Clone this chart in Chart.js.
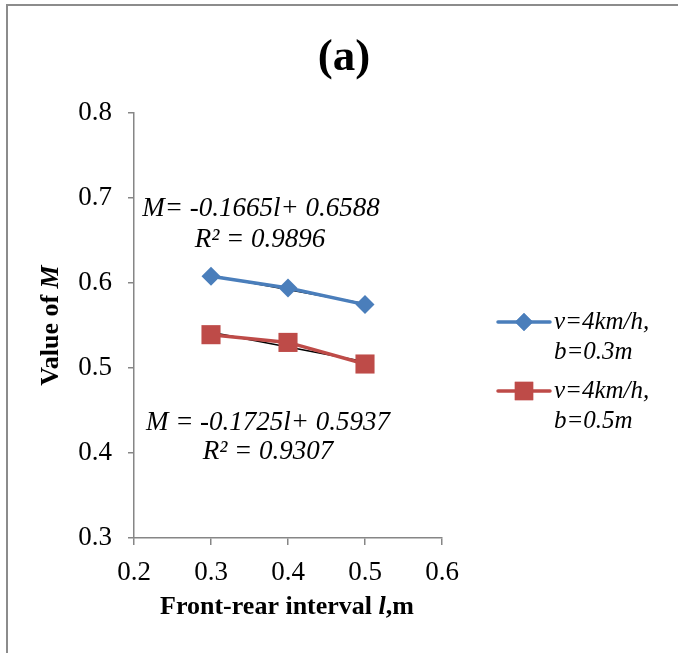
<!DOCTYPE html>
<html>
<head>
<meta charset="utf-8">
<script src="https://cdn.jsdelivr.net/npm/chart.js@4.4.1/dist/chart.umd.min.js"></script>
<style>
  html, body { margin: 0; padding: 0; background: #fff; }
  #wrap { position: relative; width: 678px; height: 653px; overflow: hidden; }
  #frame { position: absolute; left: 6px; top: 4px; width: 800px; height: 800px;
           border-left: 2px solid #8c8c8c; border-top: 2px solid #8c8c8c; pointer-events: none; }
  canvas { position: absolute; left: 0; top: 0; }
</style>
</head>
<body>
<div id="wrap">
  <canvas id="c" width="678" height="653"></canvas>
  <div id="frame"></div>
</div>
<script>
// Front-rear interval l (m)
const intervals = [0.3, 0.4, 0.5];
// Value of M for the two configurations
const mB03 = [0.6079, 0.5942, 0.5746];
const mB05 = [0.5392, 0.5301, 0.5047];
// Linear fits M = slope * l + intercept
const fitB03 = { slope: -0.1665, intercept: 0.6588, r2: '0.9896' };
const fitB05 = { slope: -0.1725, intercept: 0.5937, r2: '0.9307' };
const seriesNames = [['v=4km/h,', 'b=0.3m'], ['v=4km/h,', 'b=0.5m']];
const xTicks = [0.2, 0.3, 0.4, 0.5, 0.6];
const yTicks = [0.3, 0.4, 0.5, 0.6, 0.7, 0.8];

const BLUE = '#4a7ebb';
const RED = '#be4b48';
const AXIS = '#868686';
const SERIF = '"Liberation Serif", "Times New Roman", serif';

const pts = (xs, ys) => xs.map((x, i) => ({ x: x, y: ys[i] }));
const fitLine = (f) => [intervals[0], intervals[intervals.length - 1]]
  .map(x => ({ x: x, y: f.slope * x + f.intercept }));

// Draws a run of [text, font] pieces starting at x, baseline middle
function drawRuns(ctx, runs, x, y, align) {
  let total = 0;
  runs.forEach(r => { ctx.font = r[1]; total += ctx.measureText(r[0]).width; });
  let cx = align === 'center' ? x - total / 2 : x;
  ctx.textAlign = 'left';
  ctx.textBaseline = 'middle';
  runs.forEach(r => { ctx.font = r[1]; ctx.fillText(r[0], cx, y); cx += ctx.measureText(r[0]).width; });
}

const textPlugin = {
  id: 'texts',
  afterDraw(chart) {
    const ctx = chart.ctx;
    const ys = chart.scales.y;
    ctx.save();
    ctx.fillStyle = '#000';

    // Title
    ctx.font = 'bold 45px ' + SERIF;
    ctx.textAlign = 'center';
    ctx.textBaseline = 'middle';
    ctx.fillText('(a)', 344, 58);

    // X axis title
    drawRuns(ctx, [
      ['Front-rear interval ', 'bold 26px ' + SERIF],
      ['l', 'bold italic 26px ' + SERIF],
      [',m', 'bold 26px ' + SERIF]
    ], 287, 607, 'center');

    // Y axis title (rotated)
    ctx.save();
    ctx.translate(51, (ys.top + ys.bottom) / 2);
    ctx.rotate(-Math.PI / 2);
    drawRuns(ctx, [
      ['Value of ', 'bold 26px ' + SERIF],
      ['M', 'bold italic 26px ' + SERIF]
    ], 0, 0, 'center');
    ctx.restore();

    // Fit equations
    ctx.font = 'italic 27px ' + SERIF;
    ctx.textAlign = 'center';
    ctx.textBaseline = 'middle';
    ctx.fillText('M= ' + fitB03.slope + 'l+ ' + fitB03.intercept, 261, 209);
    ctx.fillText('R² = ' + fitB03.r2, 260, 240);
    ctx.fillText('M = ' + fitB05.slope + 'l+ ' + fitB05.intercept, 268, 423);
    ctx.fillText('R² = ' + fitB05.r2, 268, 452);

    // Legend
    const items = [
      { color: BLUE, shape: 'rectRot', r: 9, y: 322 },
      { color: RED, shape: 'rect', r: 13, y: 391 }
    ];
    items.forEach((it, i) => {
      ctx.strokeStyle = it.color;
      ctx.lineWidth = 3.5;
      ctx.lineCap = 'round';
      ctx.beginPath();
      ctx.moveTo(498, it.y);
      ctx.lineTo(550, it.y);
      ctx.stroke();
      ctx.fillStyle = it.color;
      Chart.helpers.drawPoint(ctx, { pointStyle: it.shape, radius: it.r, borderWidth: 0 }, 524, it.y);
      ctx.fill();
      ctx.fillStyle = '#000';
      ctx.font = 'italic 25px ' + SERIF;
      ctx.textAlign = 'left';
      ctx.textBaseline = 'middle';
      ctx.fillText(seriesNames[i][0], 554, it.y);
      ctx.fillText(seriesNames[i][1], 554, it.y + 30);
    });
    ctx.restore();
  }
};

new Chart(document.getElementById('c'), {
  type: 'scatter',
  data: {
    datasets: [
      {
        data: pts(intervals, mB03), showLine: true,
        borderColor: BLUE, backgroundColor: BLUE, borderWidth: 3.5,
        pointStyle: 'rectRot', pointRadius: 9.5, pointHoverRadius: 9.5, pointBorderWidth: 0
      },
      {
        data: pts(intervals, mB05), showLine: true,
        borderColor: RED, backgroundColor: RED, borderWidth: 3.5,
        pointStyle: 'rect', pointRadius: 13.5, pointHoverRadius: 13.5, pointBorderWidth: 0
      },
      {
        data: fitLine(fitB03), showLine: true,
        borderColor: '#000', borderWidth: 1.5, pointRadius: 0
      },
      {
        data: fitLine(fitB05), showLine: true,
        borderColor: '#000', borderWidth: 1.5, pointRadius: 0
      }
    ]
  },
  options: {
    responsive: false,
    animation: false,
    events: [],
    layout: { padding: { left: 0, top: 113, right: 236, bottom: 0 } },
    plugins: { legend: { display: false }, tooltip: { enabled: false }, title: { display: false } },
    scales: {
      x: {
        type: 'linear', min: 0.2, max: 0.6,
        afterBuildTicks: (s) => { s.ticks = xTicks.map(v => ({ value: v })); },
        afterFit: (s) => { s.height = 115; },
        grid: { drawOnChartArea: false, drawTicks: true, tickLength: 7, color: AXIS, lineWidth: 1.5 },
        border: { color: AXIS, width: 1.5 },
        ticks: { color: '#000', font: { family: SERIF, size: 27 }, padding: 12,
                 callback: (v) => v.toFixed(1) }
      },
      y: {
        type: 'linear', min: 0.3, max: 0.8,
        afterBuildTicks: (s) => { s.ticks = yTicks.map(v => ({ value: v })); },
        afterFit: (s) => { s.width = 134; },
        grid: { drawOnChartArea: false, drawTicks: true, tickLength: 6, color: AXIS, lineWidth: 1.5 },
        border: { color: AXIS, width: 1.5 },
        ticks: { color: '#000', font: { family: SERIF, size: 27 }, padding: 16,
                 callback: (v) => v.toFixed(1) }
      }
    }
  },
  plugins: [textPlugin]
});
</script>
</body>
</html>
